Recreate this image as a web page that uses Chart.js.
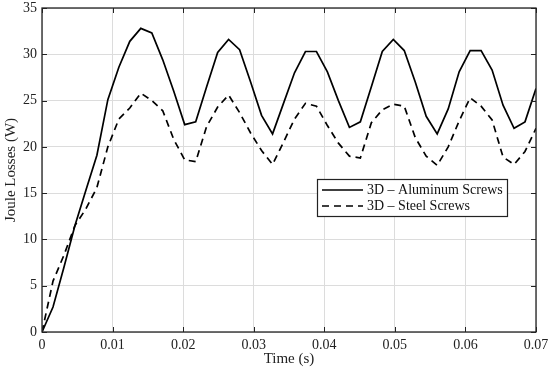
<!doctype html>
<html><head><meta charset="utf-8"/>
<title>Joule Losses</title>
<script src="https://cdn.jsdelivr.net/npm/chart.js@4"></script>
<style>
  html,body{margin:0;padding:0;background:#fff;}
  #wrap{width:550px;height:374px;position:relative;}
</style></head><body>
<div id="wrap"><canvas id="c" width="550" height="374"></canvas></div>
<script>
// time samples (s) (~1.56 ms apart)
const times = [0, 0.00156, 0.00311, 0.00467, 0.00622, 0.00778, 0.00933, 0.01089, 0.01244, 0.014,
  0.01556, 0.01711, 0.01867, 0.02022, 0.02178, 0.02333, 0.02489, 0.02644, 0.028, 0.02956,
  0.03111, 0.03267, 0.03422, 0.03578, 0.03733, 0.03889, 0.04044, 0.042, 0.04356, 0.04511,
  0.04667, 0.04822, 0.04978, 0.05133, 0.05289, 0.05444, 0.056, 0.05756, 0.05911, 0.06067,
  0.06222, 0.06378, 0.06533, 0.06689, 0.06844, 0.07];
// Joule losses (W)
const aluminum = [0, 2.7, 7.0, 11.5, 15.3, 19.1, 25.1, 28.6, 31.4, 32.8,
  32.3, 29.4, 26.0, 22.4, 22.7, 26.5, 30.2, 31.6, 30.5, 27.0,
  23.4, 21.4, 24.7, 28.0, 30.3, 30.3, 28.1, 25.0, 22.1, 22.7,
  26.5, 30.3, 31.6, 30.4, 27.0, 23.3, 21.4, 24.1, 28.1, 30.4,
  30.4, 28.3, 24.5, 22.0, 22.7, 26.3];
const steel = [0, 5.5, 8.3, 11.5, 13.3, 15.6, 20.0, 23.0, 24.2, 25.8,
  25.0, 23.9, 20.8, 18.6, 18.4, 22.2, 24.3, 25.6, 23.7, 21.5,
  19.6, 18.1, 20.5, 23.0, 24.7, 24.4, 22.3, 20.4, 19.0, 18.8,
  22.6, 24.0, 24.6, 24.4, 21.0, 19.0, 18.0, 20.0, 22.8, 25.3,
  24.4, 22.9, 18.9, 18.1, 19.5, 22.0];
const seriesNames = ['3D \u2013 Aluminum Screws', '3D \u2013 Steel Screws'];
const xTicks = [0, 0.01, 0.02, 0.03, 0.04, 0.05, 0.06, 0.07];
const yTicks = [0, 5, 10, 15, 20, 25, 30, 35];

const FONT = "'Liberation Serif', 'Times New Roman', serif";
const pts = (ys) => times.map((t, i) => ({ x: t, y: ys[i] }));

// box round the plot + inward ticks on all four sides (MATLAB look)
const boxPlugin = {
  id: 'box',
  afterDatasetsDraw(chart) {
    const { ctx, chartArea: a, scales: { x, y } } = chart;
    ctx.save();
    ctx.strokeStyle = '#222';
    ctx.lineWidth = 1.3;
    ctx.strokeRect(a.left, a.top, a.right - a.left, a.bottom - a.top);
    ctx.lineWidth = 1;
    ctx.beginPath();
    xTicks.forEach((v) => {
      const px = Math.round(x.getPixelForValue(v)) + 0.5;
      ctx.moveTo(px, a.bottom); ctx.lineTo(px, a.bottom - 5);
      ctx.moveTo(px, a.top); ctx.lineTo(px, a.top + 5);
    });
    yTicks.forEach((v) => {
      const py = Math.round(y.getPixelForValue(v)) + 0.5;
      ctx.moveTo(a.left, py); ctx.lineTo(a.left + 5, py);
      ctx.moveTo(a.right, py); ctx.lineTo(a.right - 5, py);
    });
    ctx.stroke();
    ctx.restore();
  },
  afterDraw(chart) {
    // legend box inside the plot
    const { ctx } = chart;
    const L = 317, T = 179, W = 190, H = 37;
    ctx.save();
    ctx.fillStyle = '#fff';
    ctx.fillRect(L, T, W, H);
    ctx.strokeStyle = '#222';
    ctx.lineWidth = 1.2;
    ctx.strokeRect(L + 0.5, T + 0.5, W, H);
    ctx.font = '14px ' + FONT;
    ctx.textBaseline = 'middle';
    chart.data.datasets.forEach((ds, i) => {
      const yy = T + 11 + i * 16;
      ctx.strokeStyle = ds.borderColor;
      ctx.lineWidth = ds.borderWidth;
      ctx.setLineDash(ds.borderDash || []);
      ctx.beginPath();
      ctx.moveTo(L + 5, yy); ctx.lineTo(L + 46, yy);
      ctx.stroke();
      ctx.setLineDash([]);
      ctx.fillStyle = '#111';
      ctx.fillText(ds.label, L + 50, yy);
    });
    ctx.restore();
  }
};

new Chart(document.getElementById('c'), {
  type: 'line',
  data: {
    datasets: [
      { label: seriesNames[0], data: pts(aluminum), borderColor: '#000', borderWidth: 1.7,
        pointRadius: 0, tension: 0, fill: false },
      { label: seriesNames[1], data: pts(steel), borderColor: '#000', borderWidth: 1.7,
        borderDash: [7, 5], pointRadius: 0, tension: 0, fill: false },
    ],
  },
  options: {
    responsive: false,
    animation: false,
    devicePixelRatio: 1,
    layout: { padding: { top: 8, right: 14, left: 2, bottom: 0 } },
    plugins: { legend: { display: false }, tooltip: { enabled: false } },
    scales: {
      x: {
        type: 'linear', min: 0, max: 0.07,
        afterBuildTicks: (s) => { s.ticks = xTicks.map((v) => ({ value: v })); },
        afterFit: (s) => { s.height = 42; s.paddingLeft = 0; s.paddingRight = 0; },
        grid: { color: '#dcdcdc', drawTicks: false },
        border: { display: false },
        ticks: { color: '#222', font: { family: FONT, size: 14 }, padding: 5, maxRotation: 0,
          callback: (v) => (v === 0 ? '0' : String(+v.toFixed(2))) },
        title: { display: true, text: 'Time (s)', color: '#222', font: { family: FONT, size: 15 },
          padding: { top: 0, bottom: 6 } },
      },
      y: {
        min: 0, max: 35,
        afterBuildTicks: (s) => { s.ticks = yTicks.map((v) => ({ value: v })); },
        afterFit: (s) => { s.width = 40; s.paddingTop = 0; s.paddingBottom = 0; },
        grid: { color: '#dcdcdc', drawTicks: false },
        border: { display: false },
        ticks: { color: '#222', font: { family: FONT, size: 14 }, padding: 5 },
        title: { display: true, text: 'Joule Losses (W)', color: '#222', font: { family: FONT, size: 15 },
          padding: { top: 0, bottom: 2 } },
      },
    },
  },
  plugins: [boxPlugin],
});
</script>
</body></html>
